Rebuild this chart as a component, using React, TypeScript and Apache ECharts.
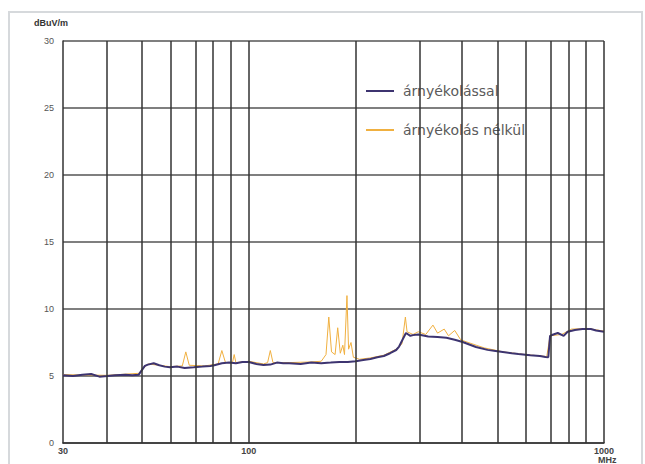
import React, { useEffect, useRef } from "react";
import * as echarts from "echarts";

// Frequency axis (MHz), log scale
const xMin = 30;
const xMax = 1000;
const xLabelValues = [30, 100, 1000];
const xGridFreqs = [40, 50, 60, 70, 80, 90, 100, 200, 300, 400, 500, 600, 700, 800, 900, 1000];

// Y axis (dBuV/m)
const yMin = 0;
const yMax = 30;
const yStep = 5;

const seriesNames = ["árnyékolással", "árnyékolás nélkül"];

// with shielding
const shieldFreq = [
  30, 32, 34, 36, 38, 40, 42, 45, 47, 49, 51, 52, 54, 56, 58, 60, 63, 66, 70, 74, 78, 80, 84, 88, 92, 96,
  100, 105, 110, 115, 120, 125, 130, 140, 150, 160, 170, 180, 190, 200, 210, 220, 230, 240, 250, 260,
  265, 272, 277, 285, 290, 300, 320, 340, 360, 380, 400, 436, 470, 495, 550, 574, 620, 660, 684, 697,
  705, 720, 741, 770, 790, 828, 870, 918, 950, 1000,
];
const shieldVal = [
  5.05, 5.0, 5.1, 5.15, 4.95, 5.0, 5.05, 5.1, 5.05, 5.1, 5.75, 5.85, 5.95, 5.8, 5.7, 5.65, 5.7, 5.6, 5.65,
  5.7, 5.75, 5.8, 5.95, 6.0, 5.95, 6.05, 6.05, 5.9, 5.82, 5.85, 6.0, 5.95, 5.95, 5.9, 6.0, 5.95, 6.0,
  6.05, 6.04, 6.1, 6.2, 6.27, 6.4, 6.49, 6.7, 6.94, 7.2, 7.8, 8.21, 8.0, 8.05, 8.1, 7.95, 7.91, 7.85,
  7.7, 7.54, 7.16, 6.95, 6.87, 6.7, 6.64, 6.55, 6.5, 6.42, 6.4, 8.0, 8.1, 8.21, 7.99, 8.3, 8.43, 8.5,
  8.51, 8.4, 8.3,
];

// without shielding
const openFreq = [
  30, 40, 49, 52, 60, 65, 66.5, 68, 75, 82, 84, 86, 90, 91, 92, 100, 110, 113, 115, 117, 130, 150, 160,
  165, 168, 171, 175, 178, 181, 184, 186, 189, 191, 194, 197, 205, 220, 240, 260, 270, 276, 279, 290,
  300, 315, 330, 340, 355, 365, 380, 395, 420, 460, 520, 600, 690, 705, 760, 810, 900, 1000,
];
const openVal = [
  5.1, 5.05, 5.2, 5.9, 5.7, 5.75, 6.8, 5.8, 5.75, 5.9, 6.9, 6.0, 6.0, 6.6, 6.0, 6.1, 5.9, 6.0, 6.9, 6.0,
  6.0, 6.05, 6.1, 6.6, 9.4, 6.8, 6.6, 8.6, 6.7, 7.3, 6.6, 11.0, 7.0, 7.5, 6.4, 6.25, 6.35, 6.55, 7.0,
  7.4, 9.4, 8.3, 8.1, 8.3, 8.1, 8.8, 8.2, 8.5, 8.0, 8.4, 7.7, 7.45, 7.1, 6.8, 6.6, 6.45, 8.0, 8.1, 8.5,
  8.55, 8.35,
];

export default function App() {
  const ref = useRef<HTMLDivElement>(null);

  useEffect(() => {
    if (!ref.current) return;
    const chart = echarts.init(ref.current, null, { renderer: "svg" });
    const lg = (f: number) => Math.log10(f);
    const shieldData = shieldFreq.map((f, i) => [lg(f), shieldVal[i]]);
    const openData = openFreq.map((f, i) => [lg(f), openVal[i]]);

    chart.setOption({
      animation: false,
      backgroundColor: "#ffffff",
      grid: { left: 63, top: 41, width: 541, height: 402 },
      legend: {
        data: seriesNames,
        orient: "vertical",
        left: 361,
        top: 79,
        itemGap: 25,
        itemWidth: 28,
        itemHeight: 2,
        icon: "rect",
        textStyle: { fontFamily: "DejaVu Sans", fontSize: 14, color: "#5a5a5a", padding: [0, 0, 0, 4] },
      },
      xAxis: {
        type: "value",
        min: lg(xMin),
        max: lg(xMax),
        splitLine: { show: false },
        axisTick: { show: false },
        axisLine: { lineStyle: { color: "#333", width: 1.5 } },
        axisLabel: {
          customValues: xLabelValues.map(lg),
          formatter: (v: number) => String(Math.round(Math.pow(10, v))),
          fontSize: 9,
          fontWeight: "bold",
          color: "#444",
          fontFamily: "Liberation Sans",
          margin: 3,
          showMinLabel: true,
          showMaxLabel: true,
        },
      },
      yAxis: {
        type: "value",
        min: yMin,
        max: yMax,
        interval: yStep,
        axisLine: { show: true, lineStyle: { color: "#333", width: 1.5 } },
        axisTick: { show: false },
        splitLine: { lineStyle: { color: "#555", width: 1.5 } },
        axisLabel: {
          fontSize: 9,
          color: "#555",
          fontFamily: "Liberation Sans",
          margin: 9,
          padding: [0, 0, 5, 0],
        },
      },
      graphic: [
        {
          type: "rect",
          shape: { x: 9, y: 12, width: 633, height: 470 },
          style: { fill: "none", stroke: "#d6d9dc", lineWidth: 2 },
          silent: true,
        },
        {
          type: "text",
          x: 34,
          y: 18,
          style: { text: "dBuV/m", fontSize: 9, fontWeight: "bold", fill: "#333", fontFamily: "Liberation Sans" },
        },
        {
          type: "text",
          x: 598,
          y: 455,
          style: { text: "MHz", fontSize: 9, fontWeight: "bold", fill: "#444", fontFamily: "Liberation Sans" },
        },
      ],
      series: [
        {
          name: seriesNames[1],
          type: "line",
          data: openData,
          showSymbol: false,
          symbol: "none",
          color: "#f0b040",
          lineStyle: { color: "#f0b040", width: 1 },
          z: 2,
          markLine: {
            silent: true,
            symbol: "none",
            label: { show: false },
            lineStyle: { color: "#333", width: 1.5, type: "solid" },
            data: xGridFreqs.map((f) => ({ xAxis: lg(f) })),
          },
        },
        {
          name: seriesNames[0],
          type: "line",
          data: shieldData,
          showSymbol: false,
          symbol: "none",
          color: "#3d3470",
          lineStyle: { color: "#3d3470", width: 2 },
          z: 3,
        },
      ],
    });
    return () => chart.dispose();
  }, []);

  return (
    <div
      ref={ref}
      style={{ position: "fixed", left: 0, top: 0, width: 645, height: 464 }}
    />
  );
}
